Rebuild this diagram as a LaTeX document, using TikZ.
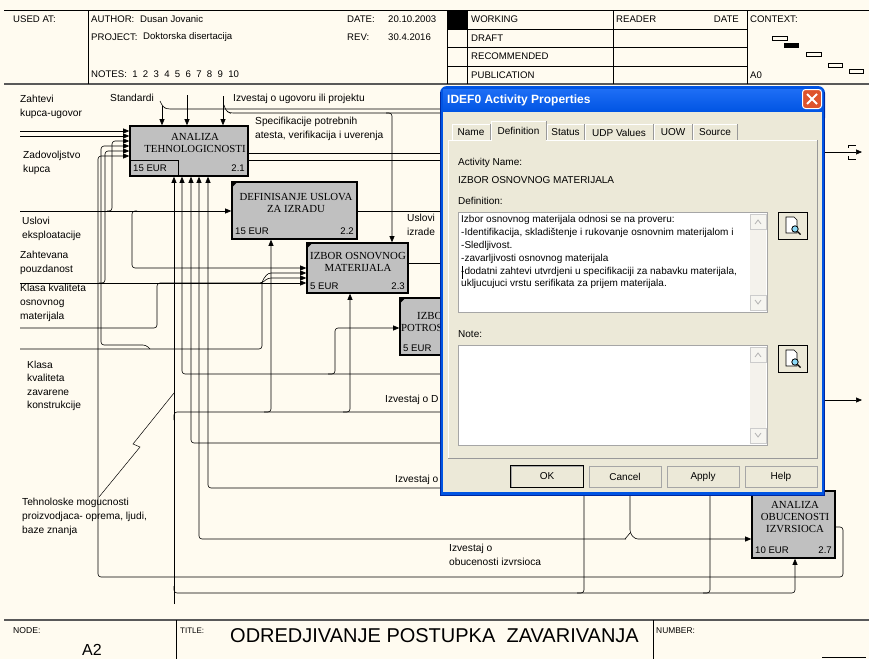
\documentclass[tikz,border=0pt]{standalone}
\usepackage{fontspec}
\setmainfont{Liberation Sans}
\newfontfamily\actfont{Liberation Serif}
\usetikzlibrary{arrows.meta}
\definecolor{paper}{RGB}{255,251,240}
\definecolor{actgray}{RGB}{192,192,192}
\definecolor{dlgface}{RGB}{236,233,216}
\definecolor{xpblue}{RGB}{0,84,227}
\definecolor{xpbluelt}{RGB}{30,110,245}
\definecolor{xpdark}{RGB}{0,40,160}
\definecolor{closered}{RGB}{222,84,44}
\definecolor{scrollbg}{RGB}{244,242,236}
\begin{document}
\begin{tikzpicture}[x=1pt,y=-1pt,
  lbl/.style={anchor=north west,inner sep=0pt,align=left,font=\fontsize{10.2}{13.8}\selectfont},
  hdr/.style={anchor=west,inner sep=0pt,font=\fontsize{9.6}{11}\selectfont},
  act/.style={draw,line width=1.6pt,fill=actgray,inner sep=0pt},
  acttxt/.style={inner sep=0pt,align=center,font=\actfont\fontsize{10.8}{12}\selectfont},
  cost/.style={inner sep=0pt,font=\fontsize{9.6}{11}\selectfont},
  ln/.style={line width=0.6pt,rounded corners=3pt},
  ar/.style={-{Triangle[length=6pt,width=5pt]}},
  dlg/.style={inner sep=0pt,font=\fontsize{10}{12.8}\selectfont},
  btn/.style={draw=gray!70,fill=dlgface,minimum width=72pt,minimum height=21pt,inner sep=0pt,font=\fontsize{10}{12}\selectfont}]
\useasboundingbox (0,0) rectangle (869,659);
\fill[paper] (0,0) rectangle (869,659);

% header
\draw[line width=0.7pt] (4,10) -- (869,10);
\draw[gray!70!black,line width=1.2pt] (4,84) -- (869,84);
\draw (88,10) -- (88,84);
\foreach \hx in {447,467,613,747} {\draw (\hx,10) -- (\hx,84);}
\foreach \hy in {29,47,66} {\draw (447,\hy) -- (747,\hy);}
\fill (447,10) rectangle (467,29);
\node[hdr] (usedat) at (13,19) {USED AT:};
\node[hdr] (author) at (91,19) {AUTHOR:};
\node[hdr] (authorv) at (140,19) {Dusan Jovanic};
\node[hdr] (project) at (91,37) {PROJECT:};
\node[hdr] (projectv) at (143,37) {Doktorska disertacija};
\node[hdr] (notes) at (91,74) {NOTES:\ \ 1\ \ 2\ \ 3\ \ 4\ \ 5\ \ 6\ \ 7\ \ 8\ \ 9\ \ 10};
\node[hdr] (date) at (347,19) {DATE:};
\node[hdr] (datev) at (388,19) {20.10.2003};
\node[hdr] (rev) at (347,37) {REV:};
\node[hdr] (revv) at (388,37) {30.4.2016};
\node[hdr] (working) at (471,19) {WORKING};
\node[hdr] (draft) at (471,38) {DRAFT};
\node[hdr] (recomm) at (471,56) {RECOMMENDED};
\node[hdr] (public) at (471,75) {PUBLICATION};
\node[hdr] (reader) at (616,19) {READER};
\node[hdr,anchor=east] (rdate) at (739,19) {DATE};
\node[hdr] (context) at (750,19) {CONTEXT:};
\node[hdr] (ctxa0) at (750,75) {A0};
\draw[line width=0.6pt] (772,36) rectangle (787,40);
\fill (784,43) rectangle (799,48);
\draw[line width=0.6pt] (806,52) rectangle (821,56);
\draw[line width=0.6pt] (828,63) rectangle (842,67);
\draw[line width=0.6pt] (849,69) rectangle (863,73);

% footer
\draw[gray!70!black,line width=1.2pt] (4,620) -- (869,620);
\draw (176,620) -- (176,659);
\draw (653,620) -- (653,659);
\draw (822,657) -- (866,657);
\node[hdr,font=\fontsize{8.6}{10}\selectfont] (nodelbl) at (13,631) {NODE:};
\node[inner sep=0pt,font=\fontsize{16}{18}\selectfont] (nodeno) at (92,650) {A2};
\node[hdr,font=\fontsize{8}{10}\selectfont] (titlelbl) at (180,631) {TITLE:};
\node[anchor=west,inner sep=0pt,font=\fontsize{20}{22}\selectfont] (title) at (230,636) {ODREDJIVANJE POSTUPKA\ \ ZAVARIVANJA};
\node[hdr,font=\fontsize{8.4}{10}\selectfont] (numlbl) at (656,631) {NUMBER:};

% activities
\node[act,minimum width=118pt,minimum height=50pt] (a21) at (189,151) {};
\draw[line width=1pt] (a21.west|-0,160) -| (178,176);
\node[acttxt] (t21) at (195,142.5) {ANALIZA\\TEHNOLOGICNOSTI};
\node[cost,anchor=west] (c21) at (133,168) {15 EUR};
\node[cost,anchor=east] (n21) at (245,168) {2.1};

\node[act,minimum width=125pt,minimum height=57pt] (a22) at (294.5,210.5) {};
\fill (a22.north west) -- ++(7,0) -- ++(-7,7) -- cycle;
\node[acttxt] (t22) at (296,202.5) {DEFINISANJE USLOVA\\ZA IZRADU};
\node[cost,anchor=west] (c22) at (235,231) {15 EUR};
\node[cost,anchor=east] (n22) at (354,231) {2.2};

\node[act,minimum width=101pt,minimum height=50pt] (a23) at (357.5,268) {};
\fill (a23.north west) -- ++(7,0) -- ++(-7,7) -- cycle;
\node[acttxt] (t23) at (358,262) {IZBOR OSNOVNOG\\MATERIJALA};
\node[cost,anchor=west] (c23) at (310,286) {5 EUR};
\node[cost,anchor=east] (n23) at (405,286) {2.3};

\node[act,minimum width=140pt,minimum height=57pt] (a24) at (470,326.5) {};
\fill (a24.north west) -- ++(7,0) -- ++(-7,7) -- cycle;
\node[acttxt,anchor=west] (t24a) at (417,316) {IZBO};
\node[acttxt,anchor=west] (t24b) at (401,328) {POTROS};
\node[cost,anchor=west] (c24) at (403,348) {5 EUR};

\node[act,minimum width=83pt,minimum height=67pt] (a27) at (793.5,524.5) {};
\fill (a27.north west) -- ++(7,0) -- ++(-7,7) -- cycle;
\node[acttxt] (t27) at (795,517) {ANALIZA\\OBUCENOSTI\\IZVRSIOCA};
\node[cost,anchor=west] (c27) at (755,550) {10 EUR};
\node[cost,anchor=east] (n27) at (832,550) {2.7};

% arrows into 2.1
\draw[ln,ar] (20,131) -- (a21.west|-0,131);
\draw[ln,ar] (20,136) -- (a21.west|-0,136);
\draw[ln,ar] (107,211) -- (112,211) -- (112,141) -- (a21.west|-0,141);
\draw[ln,ar] (150,349) -- (146,345) -- (101,345) -- (101,146) -- (a21.west|-0,146);
\draw[ln,ar] (99,283) -- (105,283) -- (105,151) -- (a21.west|-0,151);
\draw[ln,ar] (a27.east|-0,527) -- (843,527) -- (843,577) -- (98,577) -- (98,156) -- (a21.west|-0,156);
\draw[ln] (160,101) -- (163,107) -- (167,109) -- (450,109);
\draw[ln,ar] (162,106) -- (a21.north-|162,0);
\draw[ln,ar] (187,95) -- (a21.north-|187,0);
\draw[ln] (224,105) -- (226,111) -- (230,113) -- (450,113);
\draw[ln,ar] (223,96) -- (a21.north-|223,0);
\draw[ln,ar] (174,604) -- (a21.south-|174,0);
\draw[ln,ar] (450,374) -- (182,374) -- (a21.south-|182,0);
\draw[ln,ar] (450,443) -- (191,443) -- (a21.south-|191,0);
\draw[ln,ar] (626,539) -- (199,539) -- (a21.south-|199,0);
\draw[ln,ar] (450,488) -- (208,488) -- (a21.south-|208,0);

% outputs of 2.1 .. 2.3
\draw[ln] (a21.east|-0,153) -- (450,153);
\draw[ln] (a21.east|-0,160) -- (450,160);
\draw[ln] (a22.east|-0,211) -- (450,211);
\draw[ln] (a23.east|-0,263) -- (450,263);

% arrows into 2.2 .. 2.4
\draw[ln,ar] (20,211) -- (a22.west|-0,211);
\draw[ln,ar] (137,211) -- (132,211) -- (132,268) -- (a23.west|-0,268);
\draw[ln,ar] (20,349) -- (262,349) -- (262,281) -- (268,273) -- (a23.west|-0,273);
\draw[ln,ar] (20,328) -- (157,328) -- (157,283) -- (262,283) -- (268,278) -- (a23.west|-0,278);
\draw[ln,ar] (20,283) -- (a23.west|-0,283);
\draw[ln,ar] (386,113) -- (392,113) -- (a23.north-|392,0);
\draw[ln] (174,420) -- (174,412) -- (450,412);
\draw[ln,ar] (264,412) -- (271,412) -- (a22.south-|271,0);
\draw[ln,ar] (343,412) -- (350,412) -- (a23.south-|350,0);
\draw[ln,ar] (328,374) -- (335,374) -- (335,328) -- (a24.west|-0,328);

% arrows into 2.7
\draw[ln,ar] (630,490) -- (630,533) -- (635,539) -- (a27.west|-0,539);
\draw[ln] (630,533) -- (625,539);
\draw[ln,ar] (174,586) -- (174,593) -- (795,593) -- (a27.south-|795,0);
\draw[ln] (584,490) -- (584,593) -- (577,593);
\draw[ln] (710,490) -- (710,593) -- (703,593);

% outputs on the right
\coordinate (outa) at (862,152);
\coordinate (outb) at (862,400);
\draw[ln,ar] (825,152) -- (outa);
\draw[line width=0.6pt] (848,148) -- (848,145) -- (856,145) (848,156) -- (848,159) -- (856,159);
\draw[ln,ar] (825,400) -- (outb);

% squiggle
\draw[line width=0.5pt] (174,393) -- (133,444) -- (140,447) -- (99,497);

% labels
\node[lbl] (lzahtevi) at (20,95) {Zahtevi\\kupca-ugovor};
\node[lbl] (lstand) at (110,94) {Standardi};
\node[lbl] (lugovor) at (233,94) {Izvestaj o ugovoru ili projektu};
\node[lbl] (lspec) at (255,117) {Specifikacije potrebnih\\atesta, verifikacija i uverenja};
\node[lbl] (lzadov) at (23,151) {Zadovoljstvo\\kupca};
\node[lbl] (luslovi) at (22,217) {Uslovi\\eksploatacije};
\node[lbl] (lpouzd) at (20,251) {Zahtevana\\pouzdanost};
\node[lbl] (lklasa) at (20,284) {Klasa kvaliteta\\osnovnog\\materijala};
\node[lbl,font=\fontsize{10.2}{13.4}\selectfont] (lklasaz) at (27,361) {Klasa\\kvaliteta\\zavarene\\konstrukcije};
\node[lbl] (ltehno) at (22,498) {Tehnoloske mogucnosti\\proizvodjaca- oprema, ljudi,\\baze znanja};
\node[lbl] (lizrade) at (407,214) {Uslovi\\izrade};
\node[lbl] (lizvd) at (385,395) {Izvestaj o D};
\node[lbl] (lizvo) at (395,475) {Izvestaj o};
\node[lbl] (lobuc) at (449,544) {Izvestaj o\\obucenosti izvrsioca};

% dialog window
\fill[xpblue,rounded corners=7pt] (440,86) rectangle (825,125);
\fill[xpblue] (440,110) rectangle (825,495);
\shade[top color=xpbluelt,bottom color=xpblue] (443,89) rectangle (822,112);
\draw[xpdark,line width=0.8pt] (440.4,495) -- (440.4,92) (824.6,92) -- (824.6,495) -- (440.4,495);
\fill[dlgface] (443,112) rectangle (822,492);
\node[anchor=west,inner sep=0pt,text=white,font=\bfseries\fontsize{12}{14}\selectfont] (dtitle) at (447,100) {IDEF0 Activity Properties};
\node[draw=white,line width=1pt,fill=closered,rounded corners=3pt,minimum width=19pt,minimum height=19pt,inner sep=0pt] (dclose) at (812,99) {};
\draw[white,line width=2pt] (807,94) -- (817,104) (817,94) -- (807,104);

% tabs and panel
\draw[white,line width=0.8pt] (448,458) -- (448,140) -- (817,140);
\draw[gray!80,line width=0.8pt] (817,140) -- (817,458) -- (448,458);
\foreach \tname/\xa/\xb in {Name/452/490,Status/547/584,UDP Values/585/653,UOW/654/692,Source/693/737} {
  \draw[white,line width=0.8pt] (\xa,140) -- (\xa,124) -- (\xb,124);
  \draw[gray!80,line width=0.8pt] (\xb,124) -- (\xb,140);
  \node[dlg] (tab\xa) at ({(\xa+\xb)/2},132.5) {\tname};
}
\fill[dlgface] (491,121) rectangle (546,141);
\draw[white,line width=0.8pt] (491,141) -- (491,121) -- (546,121);
\draw[gray!80,line width=0.8pt] (546,121) -- (546,140);
\node[dlg] (tabdef) at (518.5,130.5) {Definition};

\node[dlg,anchor=west] (lname) at (458,163) {Activity Name:};
\node[dlg,anchor=west] (vname) at (458,180) {IZBOR OSNOVNOG MATERIJALA};
\node[dlg,anchor=west] (ldef) at (458,201) {Definition:};
\node[dlg,anchor=west] (lnote) at (458,334) {Note:};
\foreach \by/\bname in {212/defbox,345/notebox} {
  \node[draw=gray!70,line width=0.8pt,fill=white,anchor=north west,minimum width=309pt,minimum height=100pt,inner sep=0pt] (\bname) at (458,\by) {};
  \fill[scrollbg] (750,\by+2) rectangle (766,\by+98);
  \draw[gray!40,fill=scrollbg!80!white] (750,\by+2) rectangle (766,\by+17);
  \draw[gray!40,fill=scrollbg!80!white] (750,\by+83) rectangle (766,\by+98);
  \draw[gray!60,line width=0.8pt] (755,\by+12) -- (758,\by+8) -- (761,\by+12);
  \draw[gray!60,line width=0.8pt] (755,\by+88) -- (758,\by+92) -- (761,\by+88);
  \node[draw,line width=1pt,fill=dlgface,anchor=north west,minimum width=29pt,minimum height=27pt,inner sep=0pt] (\bname btn) at (778,\by) {};
  \draw[fill=white,line width=0.6pt] (786,\by+5) -- (794,\by+5) -- (797,\by+8) -- (797,\by+21) -- (786,\by+21) -- cycle;
  \draw[fill=cyan!45,line width=0.8pt] (795,\by+17) circle (3.2pt);
  \draw[line width=1.3pt] (797.5,\by+19.5) -- (800.5,\by+22.5);
}
\node[dlg,anchor=north west,align=left] (deftxt) at (461,215.5) {Izbor osnovnog materijala odnosi se na proveru:\\-Identifikacija, skladištenje i rukovanje osnovnim materijalom i\\-Sledljivost.\\-zavarljivosti osnovnog materijala\\-dodatni zahtevi utvrdjeni u specifikaciji za nabavku materijala,\\ukljucujuci vrstu serifikata za prijem materijala.};
\draw[line width=0.6pt] (462,266) -- (462,279);

% buttons
\foreach \blab/\bx in {OK/547,Cancel/625,Apply/703,Help/781} {
  \node[btn] (b\blab) at (\bx,476.5) {\blab};
}
\draw[line width=0.8pt] (bOK.north west) rectangle (bOK.south east);
\end{tikzpicture}
\end{document}
